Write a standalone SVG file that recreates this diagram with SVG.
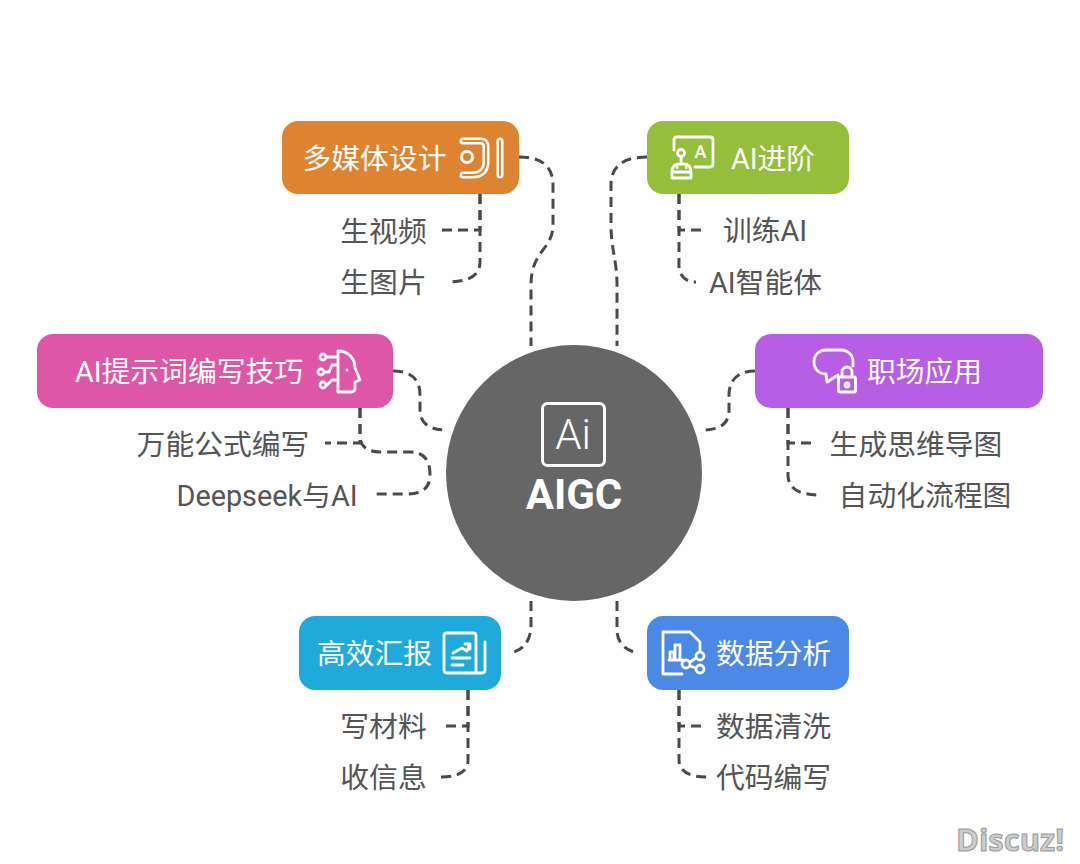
<svg xmlns="http://www.w3.org/2000/svg" width="1080" height="864" viewBox="0 0 1080 864">
<style>
text{font-family:Roboto,"Noto Sans CJK SC",sans-serif;font-size:28.800px;text-anchor:middle}
.t{fill:#fff}
.l{fill:#555}
.c{fill:none;stroke:#4a4a4a;stroke-width:3;stroke-dasharray:10 6}
.i{fill:none;stroke:#fff;stroke-width:2.800;stroke-linecap:round;stroke-linejoin:round}
</style>
<rect width="1080" height="864" fill="#fefefe"/>
<g id="connectors">
<path class="c" d="M519 157C540 157 553 165 553 185V225C553 250 531 250 531 285V346"/>
<path class="c" d="M480 194V230H441"/>
<path class="c" d="M480 194V262C480 276 468 282 447 282"/>
<path class="c" d="M647 157C625 157 611 165 611 185V225C611 250 617 260 617 285V346"/>
<path class="c" d="M679 194V230H705"/>
<path class="c" d="M679 194V262C678 274 684 282 696 282"/>
<path class="c" d="M393 371C412 371 420 380 420 395V410C420 424 430 430 447 430"/>
<path class="c" d="M360 408V443H325"/>
<path class="c" d="M360 408V436C360 448 370 452 380 452H410C424 452 430 460 430 475C430 488 422 494 408 494H372"/>
<path class="c" d="M755 371C738 371 729 380 729 395V410C729 424 720 430 702 430"/>
<path class="c" d="M788 408V443H815"/>
<path class="c" d="M788 408V475C788 488 798 495 820 495"/>
<path class="c" d="M531 601V625C531 642 522 651 510 653"/>
<path class="c" d="M468 690V726H442"/>
<path class="c" d="M468 690V760C468 772 458 777 441 777"/>
<path class="c" d="M617 601V630C617 643 626 651 638 653"/>
<path class="c" d="M679 690V726H705"/>
<path class="c" d="M679 690V760C679 772 690 777 707 777"/>
</g>
<g id="center">
<circle cx="574" cy="473" r="128" fill="#666"/>
<rect x="542.500" y="403.500" width="62" height="62" rx="5" fill="none" stroke="#fff" stroke-width="3"/>
<text x="573" y="449" class="t" style="font-size:42px;font-weight:300">Ai</text>
<text x="574" y="509" class="t" style="font-size:42px;font-weight:700">AIGC</text>
</g>
<g id="node-multimedia">
<rect x="282" y="121" width="237" height="73" rx="16" fill="#de8431"/>
<text x="374.500" y="169" class="t">多媒体设计</text>
<g fill="none" stroke-linecap="round" stroke-linejoin="round">
<path stroke="#fff" stroke-width="7" d="M463 141H481Q486 141 486 147V161Q486 175 472 175H463M500 141V175"/>
<path stroke="#de8431" stroke-width="2" d="M463 141H481Q486 141 486 147V161Q486 175 472 175H463M500 141V175"/>
<circle cx="467" cy="157" r="5.500" stroke="#fff" stroke-width="3"/>
</g>
</g>
<g id="node-advanced">
<rect x="647" y="121" width="202" height="73" rx="16" fill="#95be3a"/>
<text x="773" y="169" class="t">AI进阶</text>
<path class="i" d="M674 150V140Q674 137 677 137H710Q713 137 713 140V164Q713 167 710 167H695"/>
<text x="700.500" y="158" class="t" style="font-size:18px;font-weight:500">A</text>
<circle class="i" cx="681" cy="153" r="3.500"/>
<path class="i" d="M681 157V163M672 172Q672 164 680 164H683Q691 164 691 172V178H672ZM672 172H691"/>
<path d="M676 167.500h2.500M685 167.500h2.500" stroke="#fff" stroke-width="2.600" fill="none"/>
</g>
<g id="node-prompt">
<rect x="37" y="334" width="356" height="74" rx="16" fill="#de57a7"/>
<text x="189" y="382" class="t">AI提示词编写技巧</text>
<path class="i" d="M338 351C348 351 355 358 355 368L360 380L355 382V388Q355 392 351 392H338ZM338 357H327M338 365H332L329 372H325M338 380H332L327 385"/>
<circle class="i" cx="323" cy="357" r="3"/>
<circle class="i" cx="321" cy="372" r="3"/>
<circle class="i" cx="323" cy="385" r="3"/>
<circle cx="347" cy="370" r="1.500" fill="#fff"/>
</g>
<g id="node-workplace">
<rect x="755" y="334" width="288" height="74" rx="16" fill="#b85ee4"/>
<text x="924.500" y="382" class="t">职场应用</text>
<path class="i" d="M853 366V362C853 355 848 350 841 350H826C819 350 814 355 814 362C814 369 819 374 826 374L827 382L838 375"/>
<rect class="i" x="838.500" y="377" width="17" height="15" rx="1.500"/>
<path class="i" d="M842 377V372A5 5 0 0 1 852 372V377"/>
<circle class="i" cx="847" cy="385" r="2"/>
</g>
<g id="node-report">
<rect x="299" y="616" width="202" height="74" rx="16" fill="#1faadb"/>
<text x="374.500" y="664" class="t">高效汇报</text>
<path class="i" d="M447 633H473Q476 633 476 636V673H447Q444 673 444 670V636Q444 633 447 633ZM485 642V670Q485 673 482 673H476M453 653L462 648L467 651L470 644M465 644H470V649M452 658H470M452 665H463"/>
</g>
<g id="node-data">
<rect x="647" y="616" width="202" height="74" rx="16" fill="#4c88e6"/>
<text x="773.500" y="664" class="t">数据分析</text>
<path class="i" d="M682 674H663V632H690L700 642V651M669 660H683M670 660V652H674V660M675 660V645H680V660"/>
<circle class="i" cx="700" cy="656" r="4"/>
<circle class="i" cx="686" cy="664" r="4"/>
<circle class="i" cx="700" cy="669" r="4"/>
<path class="i" d="M690 662L696 658M690 666L696 668"/>
</g>
<g id="leaf-labels">
<text x="383.500" y="242" class="l">生视频</text>
<text x="383.500" y="293" class="l">生图片</text>
<text x="765" y="241" class="l">训练AI</text>
<text x="765.500" y="293" class="l">AI智能体</text>
<text x="223" y="455" class="l">万能公式编写</text>
<text x="267" y="506" class="l">Deepseek与AI</text>
<text x="916" y="455" class="l">生成思维导图</text>
<text x="925" y="506" class="l">自动化流程图</text>
<text x="383.500" y="737" class="l">写材料</text>
<text x="383.500" y="788" class="l">收信息</text>
<text x="773.500" y="737" class="l">数据清洗</text>
<text x="773.500" y="788" class="l">代码编写</text>
</g>
<text x="1010" y="851" style="font-family:'Open Sans',sans-serif;font-size:31px;font-weight:700;fill:#ccc;stroke:#999;stroke-width:1">Discuz!</text>
</svg>
